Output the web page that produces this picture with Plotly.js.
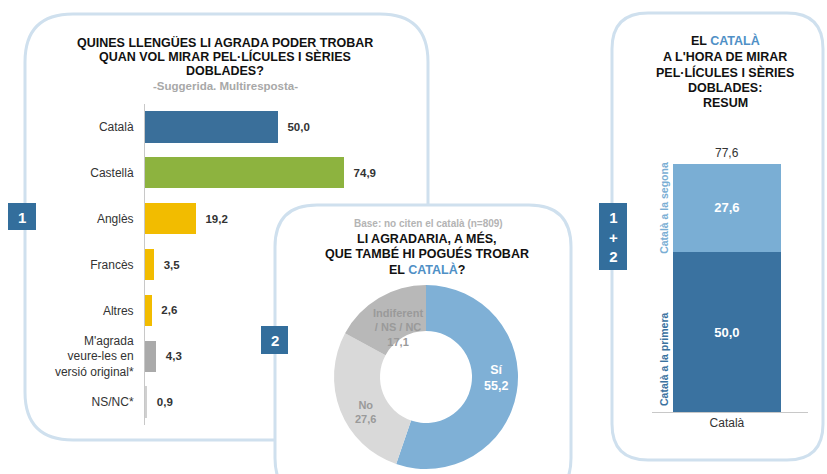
<!DOCTYPE html>
<html>
<head>
<meta charset="utf-8">
<script src="https://cdn.plot.ly/plotly-3.0.1.min.js"></script>
<style>
html,body{margin:0;padding:0;background:#fff;}
#chart{width:827px;height:474px;}
</style>
</head>
<body>
<div id="chart"></div>
<script>
// ---- DATA ----
const barCategories = ['Català', 'Castellà', 'Anglès', 'Francès', 'Altres', "M'agrada<br>veure-les en<br>versió original*", 'NS/NC*'];
const barValues = [50.0, 74.9, 19.2, 3.5, 2.6, 4.3, 0.9];

const pieLabels = ['Sí', 'No', 'Indiferent<br>/ NS / NC'];
const pieValues = [55.2, 27.6, 17.1];

const summaryCategories = ['Català'];
const summaryFirst = [50.0];   // Català a la primera
const summarySecond = [27.6];  // Català a la segona
const summaryNames = ['Català a la primera', 'Català a la segona'];

// ---- STYLE / LAYOUT HELPERS ----
const W = 827, H = 474;
const px = x => x / W;
const py = y => 1 - y / H;
const fmt = v => v.toFixed(1).replace('.', ',');
const FONT = 'Liberation Sans, Arial, sans-serif';
const NB = '\u00a0';

const barColors = ['#3a6f9a', '#8db33f', '#f2bc00', '#f2bc00', '#f2bc00', '#aaaaaa', '#d0d0d0'];
const pieColors = ['#7fb0d6', '#d9d9d9', '#b8b8b8'];
const pieTextColors = ['#ffffff', '#9a9a9a', '#9a9a9a'];
const darkBlue = '#3a72a0', lightBlue = '#7aaed4', boxBlue = '#336e9c', borderCol = '#cfe0ee';
const hl = '#4f90c6';

function roundRect(x0, y0, x1, y1, r) {
  const P = (x, y) => px(x).toFixed(5) + ',' + py(y).toFixed(5);
  return 'M' + P(x0 + r, y0) + ' L' + P(x1 - r, y0) + ' Q' + P(x1, y0) + ' ' + P(x1, y0 + r) +
    ' L' + P(x1, y1 - r) + ' Q' + P(x1, y1) + ' ' + P(x1 - r, y1) +
    ' L' + P(x0 + r, y1) + ' Q' + P(x0, y1) + ' ' + P(x0, y1 - r) +
    ' L' + P(x0, y0 + r) + ' Q' + P(x0, y0) + ' ' + P(x0 + r, y0) + ' Z';
}
function box(x0, y0, x1, y1) {
  return {type: 'rect', xref: 'paper', yref: 'paper', x0: px(x0), x1: px(x1), y0: py(y1), y1: py(y0),
    fillcolor: boxBlue, line: {width: 0}, layer: 'above'};
}

// ---- TRACES ----
const traces = [];
traces.push({
  type: 'bar', orientation: 'h', y: barCategories, x: barValues,
  marker: {color: barColors},
  text: barValues.map(v => NB + NB + '<b>' + fmt(v) + '</b>'),
  textposition: 'outside', cliponaxis: false,
  textfont: {family: FONT, size: 11.5, color: '#333'},
  xaxis: 'x', yaxis: 'y', showlegend: false, hoverinfo: 'skip'
});
traces.push({
  type: 'pie', labels: pieLabels, values: pieValues, sort: false, direction: 'clockwise', rotation: 0,
  hole: 0.5, marker: {colors: pieColors, line: {width: 0}}, textinfo: 'none', showlegend: false,
  domain: {x: [px(334), px(518)], y: [py(469), py(285)]}, hoverinfo: 'skip'
});
traces.push({
  type: 'bar', x: summaryCategories, y: summaryFirst, name: summaryNames[0], width: 0.69,
  marker: {color: darkBlue}, text: summaryFirst.map(v => '<b>' + fmt(v) + '</b>'),
  textposition: 'inside', insidetextanchor: 'middle',
  textfont: {family: FONT, size: 13, color: '#fff'}, xaxis: 'x2', yaxis: 'y2', showlegend: false, hoverinfo: 'skip'
});
traces.push({
  type: 'bar', x: summaryCategories, y: summarySecond, name: summaryNames[1], width: 0.69,
  marker: {color: lightBlue}, text: summarySecond.map(v => '<b>' + fmt(v) + '</b>'),
  textposition: 'inside', insidetextanchor: 'middle',
  textfont: {family: FONT, size: 13, color: '#fff'}, xaxis: 'x2', yaxis: 'y2', showlegend: false, hoverinfo: 'skip'
});

// ---- ANNOTATIONS ----
const ann = [];
function txt(x, y, text, opts) {
  return Object.assign({xref: 'paper', yref: 'paper', x: px(x), y: py(y), text: text, showarrow: false,
    xanchor: 'center', yanchor: 'middle', font: {family: FONT, size: 12, color: '#111'}}, opts || {});
}
function lines(x, y0, step, arr, font) {
  arr.forEach((t, i) => ann.push(txt(x, y0 + i * step, t, {font: font})));
}
const titleFont = {family: FONT, size: 12.5, color: '#111'};

lines(225, 42, 14.7, ['<b>QUINES LLENGÜES LI AGRADA PODER TROBAR</b>', '<b>QUAN VOL MIRAR PEL·LÍCULES I SÈRIES</b>', '<b>DOBLADES?</b>'], titleFont);
ann.push(txt(225, 86.5, '<b>-Suggerida. Multiresposta-</b>', {font: {family: FONT, size: 11.5, color: '#a8a8a8'}}));

ann.push(txt(428, 223, '<b>Base: no citen el català (n=809)</b>', {font: {family: FONT, size: 10, color: '#b4b4b4'}}));
lines(427, 238, 15.5, ['<b>LI AGRADARIA, A MÉS,</b>', '<b>QUE TAMBÉ HI POGUÉS TROBAR</b>',
  '<b>EL <span style="color:' + hl + '">CATALÀ</span>?</b>'], titleFont);

lines(725, 41, 15.5, ['<b>EL <span style="color:' + hl + '">CATALÀ</span></b>', '<b>A L\'HORA DE MIRAR</b>',
  '<b>PEL·LÍCULES I SÈRIES</b>', '<b>DOBLADES:</b>', '<b>RESUM</b>'], titleFont);

// pie labels, placed around the mid-angle of each slice
const pieTotal = pieValues.reduce((a, b) => a + b, 0);
const cx = 426, cy = 377, R = 92;
const labelR = [0.74, 0.76, 0.68];
const labelShift = [[3, -10], [5, 10], [4, 4]];
let cum = 0;
pieValues.forEach((v, i) => {
  const mid = (cum + v / 2) / pieTotal * 2 * Math.PI;
  cum += v;
  const lx = cx + Math.sin(mid) * R * labelR[i] + labelShift[i][0];
  const ly = cy - Math.cos(mid) * R * labelR[i] + labelShift[i][1];
  ann.push(txt(lx, ly, '<b>' + pieLabels[i] + '<br>' + fmt(v) + '</b>',
    {font: {family: FONT, size: i === 0 ? 12.5 : 11, color: pieTextColors[i]}}));
});

// summary total + series labels
const summaryTotal = summaryFirst[0] + summarySecond[0];
ann.push({xref: 'x2', yref: 'y2', x: 0, y: summaryTotal, text: fmt(summaryTotal), showarrow: false,
  yanchor: 'bottom', yshift: 2, font: {family: FONT, size: 12, color: '#333'}});
ann.push({xref: 'paper', yref: 'y2', x: px(664), y: summaryFirst[0] + summarySecond[0] / 2, text: '<b>' + summaryNames[1] + '</b>',
  showarrow: false, textangle: -90, xanchor: 'center', yanchor: 'middle', font: {family: FONT, size: 10.5, color: lightBlue}});
ann.push({xref: 'paper', yref: 'y2', x: px(664), y: 0, yshift: 4, text: '<b>' + summaryNames[0] + '</b>',
  showarrow: false, textangle: -90, xanchor: 'center', yanchor: 'bottom', font: {family: FONT, size: 10.5, color: darkBlue}});

// number boxes
ann.push(txt(22, 217, '<b>1</b>', {font: {family: FONT, size: 15, color: '#fff'}}));
ann.push(txt(274.5, 340, '<b>2</b>', {font: {family: FONT, size: 15, color: '#fff'}}));
ann.push(txt(613, 237, '<b>1<br>+<br>2</b>', {font: {family: FONT, size: 15, color: '#fff'}}));

// ---- SHAPES ----
const shapes = [
  {type: 'path', xref: 'paper', yref: 'paper', path: roundRect(25, 14, 428, 440, 48), fillcolor: '#fff', line: {color: borderCol, width: 3}, layer: 'below'},
  {type: 'path', xref: 'paper', yref: 'paper', path: roundRect(275, 205, 571, 500, 42), fillcolor: '#fff', line: {color: borderCol, width: 3}, layer: 'below'},
  {type: 'path', xref: 'paper', yref: 'paper', path: roundRect(612, 13, 823, 460, 36), fillcolor: '#fff', line: {color: borderCol, width: 3}, layer: 'below'},
  box(8, 203, 36, 230),
  box(261, 326, 288, 354),
  box(599, 203, 627, 270)
];

const layout = {
  width: W, height: H, margin: {l: 0, r: 0, t: 0, b: 0},
  paper_bgcolor: '#fff', plot_bgcolor: 'rgba(0,0,0,0)',
  font: {family: FONT, color: '#333'},
  barmode: 'stack', bargap: 0.32, showlegend: false,
  xaxis: {domain: [px(145), px(411)], range: [0, 100], visible: false, anchor: 'y', fixedrange: true},
  yaxis: {domain: [py(425), py(104)], type: 'category', autorange: 'reversed', anchor: 'x',
    showline: true, linecolor: '#c8c8c8', linewidth: 1, ticks: '', showgrid: false, zeroline: false,
    tickfont: {family: FONT, size: 12, color: '#333'}, ticklabelstandoff: 8},
  xaxis2: {domain: [px(652), px(808)], type: 'category', range: [-0.48, 0.52], anchor: 'y2',
    showline: true, linecolor: '#c8c8c8', ticks: '', showgrid: false, zeroline: false,
    tickfont: {family: FONT, size: 12, color: '#333'}},
  yaxis2: {domain: [py(412), py(124)], range: [0, 90], visible: false, anchor: 'x2'},
  annotations: ann, shapes: shapes
};

Plotly.newPlot('chart', traces, layout, {displayModeBar: false, staticPlot: true});
</script>
</body>
</html>
